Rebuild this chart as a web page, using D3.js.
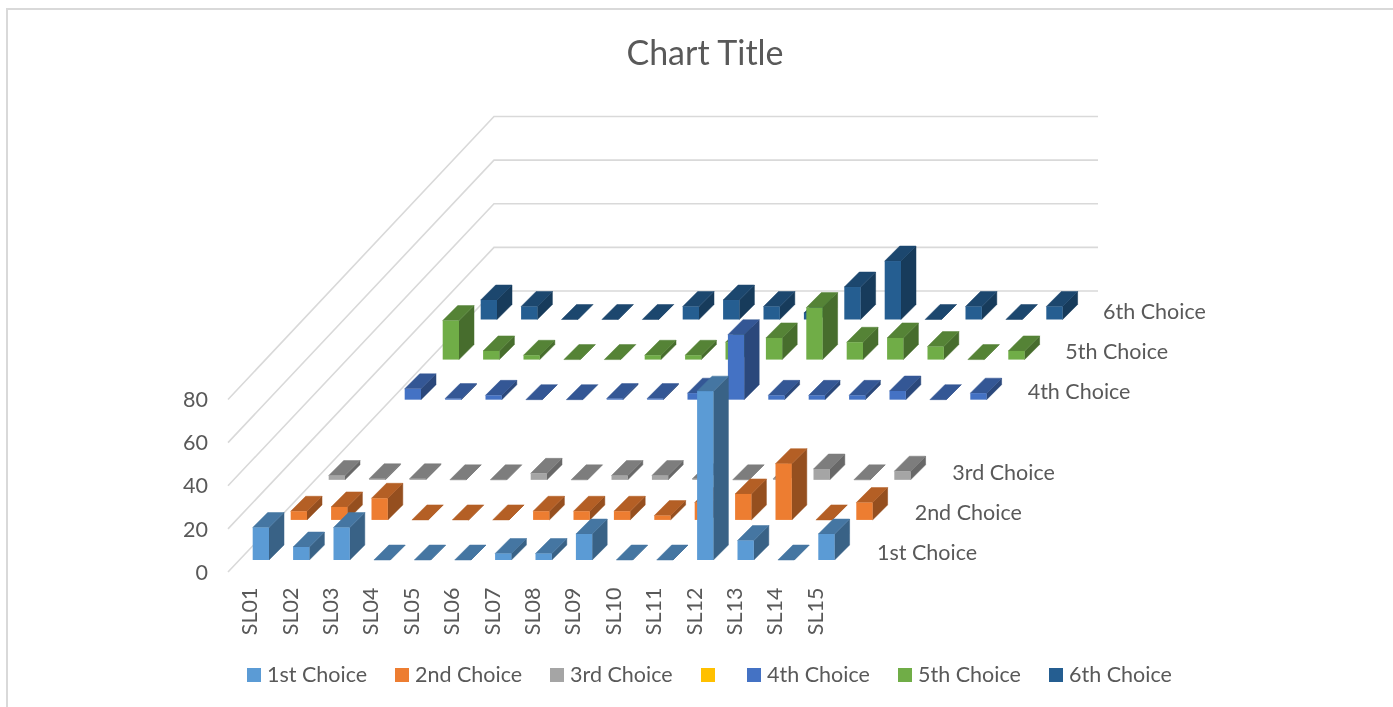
<!DOCTYPE html>
<html>
<head>
<meta charset="utf-8">
<title>Chart Title</title>
<script src="https://d3js.org/d3.v7.min.js"></script>
<style>
  html, body { margin: 0; padding: 0; background: #fff; overflow: hidden; }
  svg { display: block; filter: blur(0.35px); }
  text { font-family: Lato, "Open Sans", sans-serif; fill: #595959; }
</style>
</head>
<body>
<div id="chart"></div>
<script>
// categories and values
var categories = ['SL01','SL02','SL03','SL04','SL05','SL06','SL07','SL08','SL09','SL10','SL11','SL12','SL13','SL14','SL15'];
var seriesNames = ['1st Choice','2nd Choice','3rd Choice','','4th Choice','5th Choice','6th Choice'];
var seriesColors = ['#5B9BD5','#ED7D31','#A5A5A5','#FFC000','#4472C4','#70AD47','#255E91'];
var yTicks = [0,20,40,60,80];

var choice1 = [15,6,15,0,0,0,3,3,12,0,0,78,9,0,12];
var choice2 = [4,6,10,0,0,0,4,4,4,2,8,12,26,0,8];
var choice3 = [2,0.5,0.5,0,0,3,0,2,2,0.5,0,0.5,5,0,4];
var choice4 = [5,0.5,2,0,0,0.5,0.5,3,30,2,2,2,4,0,3];
var choice5 = [18,4,2,0,0,2,2,8,10,24,8,10,6,0,4];
var choice6 = [9,6,0,0,0,6,9,6,3,15,27,0,6,0,6];
var seriesValues = [choice1, choice2, choice3, [], choice4, choice5, choice6];

var width = 1393, height = 707;

var svg = d3.select("#chart")
    .append("svg")
    .attr("width", width)
    .attr("height", height);

// outer chart border, only top and left are in the frame
svg.append("path")
    .attr("d", "M7,707V9H1393")
    .attr("fill", "none")
    .attr("stroke", "#d9d9d9")
    .attr("stroke-width", 2);

// title
svg.append("text")
    .attr("x", 705)
    .attr("y", 65)
    .attr("text-anchor", "middle")
    .style("font-size", "34px")
    .text("Chart Title");

// scales: x along the front, depth is the shift for each row of bars
var x = d3.scalePoint().domain(categories).range([252.7, 818.3]);
var rows = d3.range(seriesNames.length);
var depthX = d3.scaleLinear().domain([0, 6]).range([0, 228]);
var depthY = d3.scaleLinear().domain([0, 6]).range([560, 319.5]);
var h = d3.scaleLinear().domain([0, 80]).range([0, 173.2]);
var barW = 16.3, barD = 15;

// walls: y = floor line of the left wall at the front, up to back wall
var wall = d3.scaleLinear().domain([0, 80]).range([572, 399.5]);
var wallBack = d3.scaleLinear().domain([0, 80]).range([291, 116.5]);
var grid = svg.append("g")
    .attr("fill", "none")
    .attr("stroke", "#d9d9d9")
    .attr("stroke-width", 1.6);
yTicks.forEach(function(t) {
    grid.append("path")
        .attr("d", "M228," + wall(t) + "L494," + wallBack(t) + "H1098");
});

// y axis
var yAxisScale = d3.scaleLinear().domain([0, 80]).range([572.5, 399.5]);
var yAxis = svg.append("g")
    .attr("transform", "translate(208,0)")
    .call(d3.axisLeft(yAxisScale).tickValues(yTicks).tickSize(0).tickPadding(0));
yAxis.select(".domain").remove();
yAxis.selectAll("text").style("font-size", "21.5px").style("fill", "#595959");

// category axis, labels turned upright
var xAxis = svg.append("g")
    .attr("transform", "translate(-3.5,587.5)")
    .call(d3.axisBottom(x).tickSize(0).tickPadding(0));
xAxis.select(".domain").remove();
xAxis.selectAll("text")
    .attr("transform", "rotate(-90)")
    .attr("x", 0)
    .attr("y", 0)
    .attr("dy", "0.35em")
    .attr("text-anchor", "end")
    .style("font-size", "21.5px")
    .style("fill", "#595959");

function shade(hex, k) {
    var c = d3.rgb(hex);
    return d3.rgb(c.r * k, c.g * k, c.b * k).formatHex();
}

// back row first so the front rows cover it
rows.slice().reverse().forEach(function(r) {
    var vals = seriesValues[r];
    if (!vals.length) return;
    var g = svg.append("g").attr("class", "series");
    var col = seriesColors[r];
    var bars = g.selectAll("g")
        .data(vals)
        .enter().append("g");

    function px(i) { return x(categories[i]) + depthX(r); }
    var base = depthY(r);

    // side face
    bars.append("path")
        .attr("fill", shade(col, 0.63))
        .attr("stroke", shade(col, 0.63))
        .attr("stroke-width", 0.5)
        .attr("d", function(d, i) {
            var l = px(i) + barW, t = base - h(d);
            return "M" + l + "," + base + "L" + l + "," + t + "L" + (l + barD) + "," + (t - barD) +
                "L" + (l + barD) + "," + (base - barD) + "Z";
        });
    // top face
    bars.append("path")
        .attr("fill", shade(col, 0.76))
        .attr("stroke", shade(col, 0.76))
        .attr("stroke-width", 0.5)
        .attr("d", function(d, i) {
            var l = px(i), t = base - h(d);
            return "M" + l + "," + t + "L" + (l + barW) + "," + t + "L" + (l + barW + barD) + "," + (t - barD) +
                "L" + (l + barD) + "," + (t - barD) + "Z";
        });
    // front face
    bars.append("rect")
        .attr("fill", col)
        .attr("x", function(d, i) { return px(i); })
        .attr("y", function(d) { return base - h(d); })
        .attr("width", barW)
        .attr("height", function(d) { return h(d); });
});

// depth axis labels
var labelX = d3.scaleLinear().domain([0, 6]).range([877, 1103]);
var labelY = d3.scaleLinear().domain([0, 6]).range([552.5, 311.5]);
svg.append("g").selectAll("text")
    .data(rows.filter(function(r) { return seriesNames[r]; }))
    .enter().append("text")
    .attr("x", function(r) { return labelX(r); })
    .attr("y", function(r) { return labelY(r); })
    .attr("dy", "0.35em")
    .style("font-size", "21.5px")
    .text(function(r) { return seriesNames[r]; });

// legend
var legendX = [247, 395, 550, 701, 747, 898, 1049];
var legend = svg.append("g").selectAll("g")
    .data(rows)
    .enter().append("g")
    .attr("transform", function(r) { return "translate(" + legendX[r] + ",668)"; });
legend.append("rect")
    .attr("width", 14)
    .attr("height", 14)
    .attr("fill", function(r) { return seriesColors[r]; });
legend.append("text")
    .attr("x", 20)
    .attr("y", 6)
    .attr("dy", "0.35em")
    .style("font-size", "21.5px")
    .text(function(r) { return seriesNames[r]; });
</script>
</body>
</html>
